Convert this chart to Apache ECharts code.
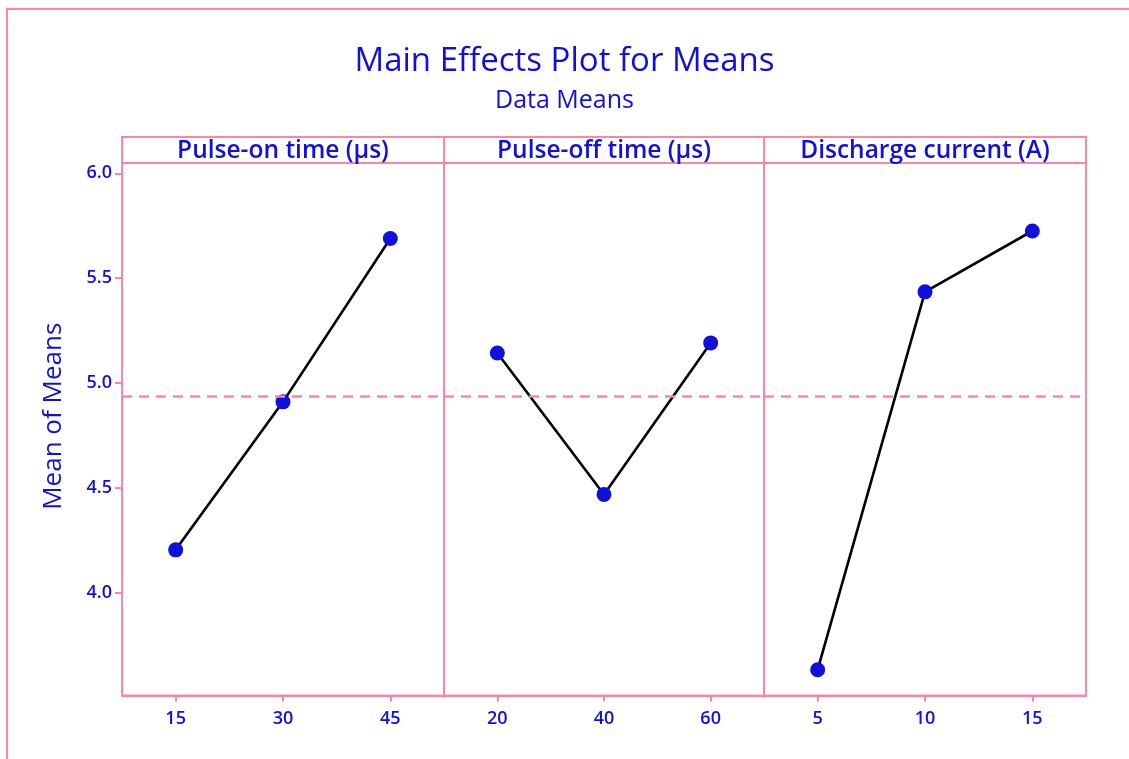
<!DOCTYPE html>
<html>
<head>
<meta charset="utf-8">
<script src="https://cdn.jsdelivr.net/npm/echarts@6/dist/echarts.min.js"></script>
<style>
html,body{margin:0;padding:0;background:#fff;}
#chart{width:1129px;height:759px;}
</style>
</head>
<body>
<div id="chart"></div>
<script>
// ---- data ----
const panelTitles = ['Pulse-on time (µs)', 'Pulse-off time (µs)', 'Discharge current (A)'];
const pulseOnLevels = [15, 30, 45];
const pulseOnMeans = [4.206, 4.911, 5.689];
const pulseOffLevels = [20, 40, 60];
const pulseOffMeans = [5.144, 4.470, 5.192];
const currentLevels = [5, 10, 15];
const currentMeans = [3.635, 5.435, 5.725];
const grandMean = 4.938;
const yTicks = [4.0, 4.5, 5.0, 5.5, 6.0];

// ---- styles / layout ----
const PINK = '#ff84a6';
const BLUE = '#1010dc';
const FONT = '"Open Sans", "Noto Sans", sans-serif';
const panels = [
  {left: 122, width: 322, xmin: 7.5, xmax: 52.5, levels: pulseOnLevels, means: pulseOnMeans},
  {left: 444, width: 320, xmin: 10, xmax: 70, levels: pulseOffLevels, means: pulseOffMeans},
  {left: 764, width: 322, xmin: 2.5, xmax: 17.5, levels: currentLevels, means: currentMeans}
];
const gridTop = 163, gridBottom = 63.5, stripTop = 137, stripH = 26;
const yMin = 3.512, yMax = 6.049;

const chart = echarts.init(document.getElementById('chart'), null, {renderer: 'canvas'});

const grid = panels.map(p => ({
  left: p.left, width: p.width, top: gridTop, bottom: gridBottom,
  show: true, borderColor: PINK, borderWidth: 2, backgroundColor: 'transparent'
}));

const xAxis = panels.map((p, i) => ({
  type: 'value', gridIndex: i, min: p.xmin, max: p.xmax,
  splitLine: {show: false},
  axisLine: {show: true, lineStyle: {color: PINK, width: 2}},
  axisTick: {show: true, length: 6, lineStyle: {color: PINK, width: 2}, customValues: p.levels},
  axisLabel: {show: true, color: BLUE, fontFamily: FONT, fontWeight: 600, fontSize: 18, margin: 14, customValues: p.levels}
}));

const yAxis = panels.map((p, i) => ({
  type: 'value', gridIndex: i, min: yMin, max: yMax,
  name: i === 0 ? 'Mean of Means' : '',
  nameLocation: 'middle', nameGap: 55,
  nameTextStyle: {color: BLUE, fontFamily: FONT, fontSize: 26, fontWeight: 400, padding: [0, 0, 0, 26]},
  splitLine: {show: false},
  axisLine: {show: i === 0, lineStyle: {color: PINK, width: 2}},
  axisTick: {show: i === 0, length: 7, lineStyle: {color: PINK, width: 2}, customValues: yTicks},
  axisLabel: {show: i === 0, color: BLUE, fontFamily: FONT, fontWeight: 600, fontSize: 18, margin: 10,
    customValues: yTicks, formatter: v => v.toFixed(1)}
}));

const series = panels.map((p, i) => ({
  type: 'line', xAxisIndex: i, yAxisIndex: i,
  data: p.levels.map((x, k) => [x, p.means[k]]),
  symbol: 'circle', symbolSize: 15,
  itemStyle: {color: BLUE},
  lineStyle: {color: '#000', width: 2.6},
  animation: false,
  z: 3,
  markLine: {
    silent: true, symbol: ['none', 'none'], label: {show: false},
    lineStyle: {color: PINK, width: 2.5, type: [10, 7]},
    data: [{yAxis: grandMean}],
    animation: false
  }
}));

const graphic = [
  {type: 'rect', shape: {x: 7, y: 9, width: 1300, height: 900}, style: {fill: 'none', stroke: PINK, lineWidth: 2}, z: 0}
];
panels.forEach((p, i) => {
  graphic.push({type: 'rect', shape: {x: p.left, y: stripTop, width: p.width, height: stripH},
    style: {fill: 'none', stroke: PINK, lineWidth: 2}, z: 1});
  graphic.push({type: 'text', x: p.left + p.width / 2, y: stripTop + stripH / 2 + 1,
    style: {text: panelTitles[i], fill: BLUE, font: '600 24.5px ' + FONT, textAlign: 'center', textVerticalAlign: 'middle'}, z: 2});
});

chart.setOption({
  animation: false,
  backgroundColor: '#fff',
  title: [
    {text: 'Main Effects Plot for Means', left: 'center', top: 40,
      textStyle: {color: BLUE, fontFamily: FONT, fontSize: 33, fontWeight: 500}},
    {text: 'Data Means', left: 'center', top: 83,
      textStyle: {color: BLUE, fontFamily: FONT, fontSize: 25, fontWeight: 500}}
  ],
  grid, xAxis, yAxis, series, graphic
});
</script>
</body>
</html>
